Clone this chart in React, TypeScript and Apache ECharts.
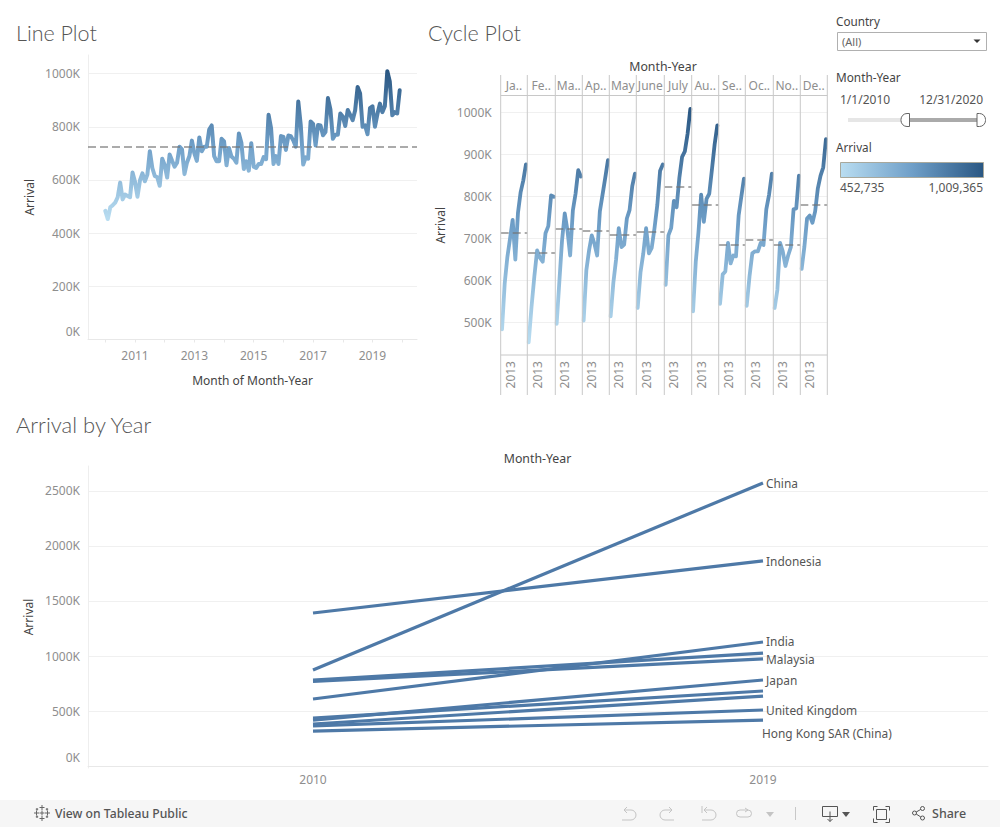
import React, { useEffect, useRef } from "react";
import * as echarts from "echarts";

const years = ["2010","2011","2012","2013","2014","2015","2016","2017","2018","2019"];
const monthNames = ["January","February","March","April","May","June","July","August","September","October","November","December"];
const monthHeaders = ["Ja..","Fe..","Ma..","Ap..","May","June","July","Au..","Se..","Oc..","No..","De.."];

const jan = [484,593,656,700,745,650,762,811,839,877];
const feb = [453,537,609,672,655,645,713,730,803,800];
const mar = [497,598,696,760,720,660,767,807,863,848];
const apr = [505,625,672,708,688,660,765,805,845,887];
const may = [515,595,650,725,680,686,748,768,825,855];
const jun = [535,620,665,725,665,678,725,780,862,877];
const jul = [590,708,725,790,775,845,895,908,950,1009];
const aug = [527,645,715,805,740,795,807,865,925,970];
const sep = [545,615,622,690,641,660,658,755,800,843];
const oct = [540,610,665,670,670,690,685,770,805,855];
const nov = [535,578,690,670,635,660,680,770,772,850];
const dec = [628,680,748,755,738,765,820,850,870,937];
const monthly = [jan,feb,mar,apr,may,jun,jul,aug,sep,oct,nov,dec];

const monthAverages = [714,666,723,718,709,716,824,782,686,698,686,782];
const overallAverage = 725;
const arrivalMin = 452735;
const arrivalMax = 1009365;

const slopeYears = ["2010","2019"];
const china = [873,2573];
const indonesia = [1391,1864];
const india = [609,1127];
const malaysia = [770,973];
const otherA = [780,1027];
const japan = [418,782];
const otherB = [436,682];
const otherC = [382,636];
const unitedKingdom = [364,509];
const hongKong = [318,418];

const lineTicks = [0,200000,400000,600000,800000,1000000];
const cycleTicks = [500000,600000,700000,800000,900000,1000000];
const slopeTicks = [0,500000,1000000,1500000,2000000,2500000];

const panelEdges = [500.7,527.3,555.3,582.3,609.3,636.3,664.3,691.7,718.7,745.3,773.3,800.3,827.3];

const FONT = "'Noto Sans', sans-serif";
const TITLE_FONT = "Lato, sans-serif";
const GREY = "#8e8e8e";
const DARK = "#444";
const RAMP = ["#b9ddf1","#6f9fc8","#2a5783"];
const fmtK = (v: number) => (v === 0 ? "{zero|0K}" : `${Math.round(v / 1000)}K`);

// Month axis for the line plot, with a few blank months either side of the data.
const padBefore = ["2009-06","2009-07","2009-08","2009-09","2009-10","2009-11","2009-12"];
const padAfter = ["2020-01","2020-02","2020-03","2020-04","2020-05","2020-06","2020-07"];
const dataMonths: string[] = [];
years.forEach((y) => monthNames.forEach((_, m) => dataMonths.push(`${y}-${String(m + 1).padStart(2, "0")}`)));
const timeline = [...padBefore, ...dataMonths, ...padAfter];
const lineValues: (number | null)[] = [
  ...padBefore.map(() => null),
  ...dataMonths.map((_, i) => monthly[i % 12][Math.floor(i / 12)] * 1000),
  ...padAfter.map(() => null),
];

const ICONS: Record<string, string> = {
  tbUndo: "M4 4H11A5 5 0 0 1 11 14H2M4 4L7 1M4 4L7 7",
  tbRedo: "M12 4H5A5 5 0 0 0 5 14H14M12 4L9 1M12 4L9 7",
  tbRevert: "M2 0V7M4 4H11A5 5 0 0 1 11 14H2M4 4L7 1M4 4L7 7",
  tbRefresh: "M4 2H12A3.5 3.5 0 0 1 12 9H4A3.5 3.5 0 0 1 4 2M12 2L9 0M12 2L9 4",
  tbDownload: "M0 0H15V10H0ZM7.5 5V15M5 12.5L7.5 15L10 12.5",
  tbFull: "M0 4V0H4M12 0H16V4M16 12V16H12M4 16H0V12M3 3H13V13H3Z",
  tbShare: "M5 7A2 2 0 1 1 1 7A2 2 0 1 1 5 7M13 2.5A2 2 0 1 1 9 2.5A2 2 0 1 1 13 2.5M13 12A2 2 0 1 1 9 12A2 2 0 1 1 13 12M4.7 6L9.3 3.4M4.7 8L9.3 11",
  tbLogo: "M8 0V5M5.5 2.5H10.5M8 11V16M5.5 13.5H10.5M0 8H5M2.5 5.5V10.5M11 8H16M13.5 5.5V10.5M8 5.5V10.5M5.5 8H10.5M3 3V5.5M1.8 4.2H4.2M13 3V5.5M11.8 4.2H14.2M3 10.5V13M1.8 11.8H4.2M13 10.5V13M11.8 11.8H14.2",
};
Object.keys(ICONS).forEach((k) => echarts.graphic.registerShape(k, echarts.graphic.extendPath(ICONS[k], {}) as any));

const txt = (text: string, x: number, y: number, o: any = {}) => ({
  type: "text", x, y, silent: true, z: 10,
  style: { text, fontFamily: FONT, fontSize: 12, fill: DARK, textVerticalAlign: "middle", verticalAlign: "middle", ...o },
});
const icon = (type: string, x: number, y: number, stroke: string) => ({
  type, x, y, silent: true, z: 10, style: { fill: "none", stroke, lineWidth: 1 },
});
const tri = (x: number, y: number, fill: string, w = 4, h = 5) => ({
  type: "polygon", silent: true, z: 10, shape: { points: [[x - w, y], [x + w, y], [x, y + h]] }, style: { fill },
});
const vline = (x: number, y1: number, y2: number, stroke = "#c8c8c8") => ({
  type: "line", silent: true, z: 9, shape: { x1: x, y1, x2: x, y2 }, style: { stroke, lineWidth: 1 },
});
const hline = (y: number, x1: number, x2: number, stroke = "#c8c8c8") => ({
  type: "line", silent: true, z: 9, shape: { x1, y1: y, x2, y2: y }, style: { stroke, lineWidth: 1 },
});

const avgMark = (v: number, width = 2) => ({
  silent: true, symbol: ["none","none"], animation: false, label: { show: false },
  lineStyle: { type: [8,4] as any, color: "rgba(115,115,115,0.6)", width },
  data: [{ yAxis: v }],
});

const valueLabel = (ticks: number[], zeroPad: number) => ({
  customValues: ticks, formatter: fmtK, color: GREY, fontFamily: FONT, fontSize: 12, margin: 8,
  rich: { zero: { color: GREY, fontFamily: FONT, fontSize: 12, padding: [0, 0, zeroPad, 0] } },
});

function buildOption() {
  const grids: any[] = [];
  const xAxes: any[] = [];
  const yAxes: any[] = [];
  const series: any[] = [];

  // line plot
  grids.push({ left: 88, top: 55, width: 329, height: 284.5 });
  xAxes.push({
    gridIndex: 0, type: "category", data: timeline, boundaryGap: false,
    name: "Month of Month-Year", nameLocation: "middle", nameGap: 35,
    nameTextStyle: { fontFamily: FONT, fontSize: 12, color: DARK },
    axisLine: { lineStyle: { color: "#e8e8e8" } },
    axisTick: { lineStyle: { color: "#e8e8e8" }, length: 3, interval: (_: number, v: string) => v.endsWith("-01") },
    axisLabel: {
      interval: (_: number, v: string) => v.endsWith("-01") && Number(v.slice(0, 4)) % 2 === 1 && v !== "2009-01",
      formatter: (v: string) => v.slice(0, 4), color: GREY, fontFamily: FONT, fontSize: 12, margin: 10,
    },
  });
  yAxes.push({
    gridIndex: 0, type: "value", min: 0, max: 1070000, name: "Arrival", nameLocation: "middle", nameGap: 53,
    nameTextStyle: { fontFamily: FONT, fontSize: 12, color: DARK },
    axisLine: { show: true, lineStyle: { color: "#eeeeee" } }, axisTick: { show: false, customValues: lineTicks },
    axisLabel: valueLabel(lineTicks, 17),
    splitLine: { lineStyle: { color: "#f0f0f0" } },
  });
  series.push({
    type: "line", xAxisIndex: 0, yAxisIndex: 0, data: lineValues, showSymbol: false, symbol: "none",
    lineStyle: { width: 4, join: "round", cap: "round" }, markLine: avgMark(overallAverage * 1000),
  });

  // cycle plot panels
  monthly.forEach((vals, i) => {
    const g = i + 1;
    grids.push({ left: panelEdges[i], top: 95.5, width: panelEdges[i + 1] - panelEdges[i], height: 259.5 });
    xAxes.push({
      gridIndex: g, type: "category", data: years, boundaryGap: true,
      axisLine: { show: false }, axisTick: { show: false },
      axisLabel: {
        interval: (idx: number) => idx === 3, rotate: 90, color: GREY, fontFamily: FONT, fontSize: 12, margin: 6,
      },
    });
    yAxes.push({
      gridIndex: g, type: "value", min: 423000, max: 1041000,
      name: i === 0 ? "Arrival" : "", nameLocation: "middle", nameGap: 54,
      nameTextStyle: { fontFamily: FONT, fontSize: 12, color: DARK },
      axisLine: { show: false }, axisTick: { show: false, customValues: cycleTicks },
      axisLabel: { show: i === 0, customValues: cycleTicks, formatter: fmtK, color: GREY, fontFamily: FONT, fontSize: 12, margin: 9 },
      splitLine: { lineStyle: { color: "#f0f0f0" } },
    });
    series.push({
      type: "line", xAxisIndex: g, yAxisIndex: g, data: vals.map((v) => v * 1000), showSymbol: false, symbol: "none",
      name: monthNames[i], clip: false,
      lineStyle: { width: 3.8, join: "round", cap: "round" }, markLine: avgMark(monthAverages[i] * 1000),
    });
  });

  // slope chart
  grids.push({ left: 88, top: 466, width: 900, height: 302 });
  xAxes.push({
    gridIndex: 13, type: "category", data: slopeYears, boundaryGap: true,
    axisLine: { lineStyle: { color: "#e8e8e8" } }, axisTick: { lineStyle: { color: "#e8e8e8" }, length: 3 },
    axisLabel: { color: GREY, fontFamily: FONT, fontSize: 12, margin: 5 },
  });
  yAxes.push({
    gridIndex: 13, type: "value", min: -18000, max: 2727000, name: "Arrival", nameLocation: "middle", nameGap: 53,
    nameTextStyle: { fontFamily: FONT, fontSize: 12, color: DARK },
    axisLine: { show: true, lineStyle: { color: "#eeeeee" } }, axisTick: { show: false, customValues: slopeTicks },
    axisLabel: valueLabel(slopeTicks, 18),
    splitLine: { lineStyle: { color: "#f0f0f0" } },
  });
  const slopes: [string, number[], boolean, number[]][] = [
    ["China", china, true, [0, 0]],
    ["Indonesia", indonesia, true, [0, 0]],
    ["India", india, true, [0, -1]],
    ["Malaysia", malaysia, true, [0, 0]],
    ["Unlabeled A", otherA, false, [0, 0]],
    ["Japan", japan, true, [0, 0]],
    ["Unlabeled B", otherB, false, [0, 0]],
    ["Unlabeled C", otherC, false, [0, 0]],
    ["United Kingdom", unitedKingdom, true, [0, 0]],
    ["Hong Kong SAR (China)", hongKong, true, [-4, 13]],
  ];
  slopes.forEach(([name, vals, lab, off]) => {
    series.push({
      type: "line", name, xAxisIndex: 13, yAxisIndex: 13, data: vals.map((v) => v * 1000),
      showSymbol: false, symbol: "none", lineStyle: { width: 3.2, color: "#4e79a7" },
      itemStyle: { color: "#4e79a7" },
      endLabel: { show: lab, formatter: "{a}", distance: 3, offset: off, color: "#555", fontFamily: FONT, fontSize: 11.9 },
    });
  });

  const titleStyle = { fontFamily: TITLE_FONT, fontWeight: 300, fontSize: 21.5, fill: "#555" };
  const graphicEls: any[] = [
    txt("Line Plot", 16, 32.5, titleStyle),
    txt("Cycle Plot", 428, 32.5, titleStyle),
    txt("Arrival by Year", 16, 424.5, { ...titleStyle, fontSize: 22 }),
    txt("Month-Year", 663, 66, { fontSize: 12.3, textAlign: "center", align: "center" }),
    txt("Month-Year", 537.5, 458, { fontSize: 12.3, textAlign: "center", align: "center" }),
    hline(95.5, 500.7, 827.3),
    hline(355, 500.7, 827.3),
    // filter / legend
    txt("Country", 836, 21, { fontSize: 11.7 }),
    { type: "rect", silent: true, z: 9, shape: { x: 837.5, y: 32.5, width: 149, height: 18 }, style: { fill: "#fff", stroke: "#b0b0b0", lineWidth: 1 } },
    txt("(All)", 842, 41, { fontSize: 11, fill: "#666" }),
    tri(977, 39.5, "#333", 3.5, 3.5),
    txt("Month-Year", 836, 77, { fontSize: 11.8 }),
    txt("1/1/2010", 840, 99, { fontSize: 12, fill: "#555" }),
    txt("12/31/2020", 983, 99, { fontSize: 12, fill: "#555", textAlign: "right", align: "right" }),
    { type: "rect", silent: true, z: 9, shape: { x: 848, y: 118, width: 58, height: 4 }, style: { fill: "#e6e6e6" } },
    { type: "rect", silent: true, z: 9, shape: { x: 908, y: 118, width: 70, height: 4 }, style: { fill: "#aaaaaa" } },
    { type: "rect", silent: true, z: 10, shape: { x: 901, y: 113.5, width: 8.5, height: 13, r: [6, 0, 0, 6] }, style: { fill: "#fff", stroke: "#666", lineWidth: 1 } },
    { type: "rect", silent: true, z: 10, shape: { x: 977, y: 113.5, width: 8.5, height: 13, r: [0, 6, 6, 0] }, style: { fill: "#fff", stroke: "#666", lineWidth: 1 } },
    txt("Arrival", 836, 147, { fontSize: 11.7 }),
    {
      type: "rect", silent: true, z: 9, shape: { x: 840.5, y: 162.5, width: 143, height: 15 },
      style: {
        stroke: "#a8a89c", lineWidth: 1,
        fill: new echarts.graphic.LinearGradient(0, 0, 1, 0, RAMP.map((color, i) => ({ offset: i / (RAMP.length - 1), color }))),
      },
    },
    txt("452,735", 840, 187, { fontSize: 12, fill: "#555" }),
    txt("1,009,365", 983, 187, { fontSize: 12, fill: "#555", textAlign: "right", align: "right" }),
    // toolbar
    { type: "rect", silent: true, z: 8, shape: { x: 0, y: 800, width: 1000, height: 27 }, style: { fill: "#f6f6f6" } },
    icon("tbLogo", 34, 805, "#666"),
    txt("View on Tableau Public", 55, 813.5, { fontSize: 12.2, fill: "#555", fontWeight: 500 }),
    icon("tbUndo", 620, 806, "#c4c4c4"),
    icon("tbRedo", 660, 806, "#c4c4c4"),
    icon("tbRevert", 700, 806, "#c4c4c4"),
    icon("tbRefresh", 736, 808, "#c4c4c4"),
    tri(770, 812, "#c4c4c4"),
    vline(795.5, 807, 820, "#c8c8c8"),
    icon("tbDownload", 822.5, 806.5, "#555"),
    tri(846, 812, "#555"),
    icon("tbFull", 873.5, 806.5, "#555"),
    icon("tbShare", 911.5, 806, "#555"),
    txt("Share", 932, 813.5, { fontSize: 12.5, fill: "#555", fontWeight: 500 }),
  ];
  panelEdges.forEach((x) => graphicEls.push(vline(x, 75, 395)));
  monthHeaders.forEach((t, i) => {
    graphicEls.push(txt(t, (panelEdges[i] + panelEdges[i + 1]) / 2, 85.5, { fontSize: 12, fill: GREY, textAlign: "center", align: "center" }));
  });

  return {
    animation: false,
    backgroundColor: "#ffffff",
    textStyle: { fontFamily: FONT },
    grid: grids,
    xAxis: xAxes,
    yAxis: yAxes,
    visualMap: [{
      type: "continuous", show: false, dimension: 1, min: arrivalMin, max: arrivalMax,
      seriesIndex: Array.from({ length: 13 }, (_, i) => i),
      inRange: { color: RAMP },
    }],
    series,
    graphic: { elements: graphicEls },
  };
}

export default function App() {
  const ref = useRef<HTMLDivElement>(null);
  useEffect(() => {
    document.body.style.margin = "0";
    const chart = echarts.init(ref.current!, undefined, { renderer: "svg" });
    chart.setOption(buildOption() as any);
    return () => chart.dispose();
  }, []);
  return <div ref={ref} style={{ width: 1000, height: 827 }} />;
}
